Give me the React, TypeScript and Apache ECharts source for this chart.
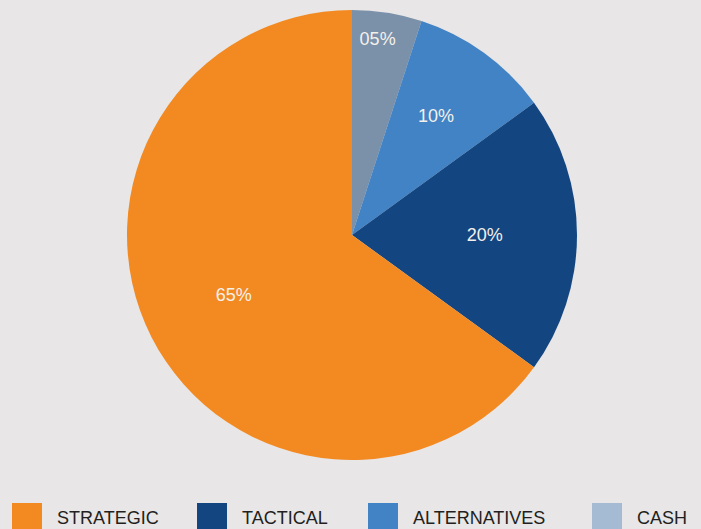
import React, { useEffect, useRef } from "react";
import * as echarts from "echarts";

const categories = ["CASH", "ALTERNATIVES", "TACTICAL", "STRATEGIC"];
const values = [5, 10, 20, 65];
const labels = ["05%", "10%", "20%", "65%"];
const sliceColors = ["#7a91a9", "#4183c4", "#134581", "#f28a21"];
const legendOrder = ["STRATEGIC", "TACTICAL", "ALTERNATIVES", "CASH"];
const legendColors = ["#f28a21", "#134581", "#4183c4", "#a5bad3"];
const legendLeft = [12, 197, 368, 592];
const labelRadiusFrac = [0.87, 0.635, 0.59, 0.59];

export default function App() {
  const ref = useRef<HTMLDivElement>(null);
  useEffect(() => {
    if (!ref.current) return;
    const chart = echarts.init(ref.current, undefined, { renderer: "svg" });
    const cx = 352;
    const cy = 235;
    const R = 225;
    const total = values.reduce((a, b) => a + b, 0);
    const cum: number[] = [];
    let acc = 0;
    values.forEach((v) => {
      cum.push(acc + v / 2);
      acc += v;
    });
    chart.setOption({
      animation: false,
      backgroundColor: "#e8e6e7",
      legend: legendOrder.map((name, i) => ({
        left: legendLeft[i],
        top: 503,
        padding: 0,
        itemWidth: 30,
        itemHeight: 30,
        icon: "rect",
        selectedMode: false,
        data: [{ name, itemStyle: { color: legendColors[i] } }],
        textStyle: {
          fontFamily: "Liberation Sans, Arial, sans-serif",
          fontSize: 18,
          color: "#231f20",
          padding: [0, 0, 0, 10],
        },
      })),
      series: [
        {
          type: "pie",
          center: [cx, cy],
          radius: R,
          startAngle: 90,
          clockwise: true,
          avoidLabelOverlap: false,
          data: categories.map((name, i) => ({
            name,
            value: values[i],
            itemStyle: { color: sliceColors[i] },
            label: { formatter: labels[i] },
          })),
          label: {
            show: true,
            position: "inside",
            color: "#f4f0ec",
            fontSize: 18,
            fontFamily: "Liberation Sans, Arial, sans-serif",
            align: "center",
            verticalAlign: "middle",
          },
          labelLine: { show: false },
          labelLayout: (params: any) => {
            const i = params.dataIndex;
            const ang = (cum[i] / total) * Math.PI * 2;
            const r = R * labelRadiusFrac[i];
            return {
              x: cx + r * Math.sin(ang) - (i === 0 ? 5 : 0),
              y: cy - r * Math.cos(ang) - (i < 2 ? 3 : 0),
              align: "center",
              verticalAlign: "middle",
            };
          },
          emphasis: { disabled: true },
        },
      ],
    });
    return () => chart.dispose();
  }, []);
  return (
    <div
      ref={ref}
      style={{ position: "absolute", left: 0, top: 0, width: 701, height: 529 }}
    />
  );
}
